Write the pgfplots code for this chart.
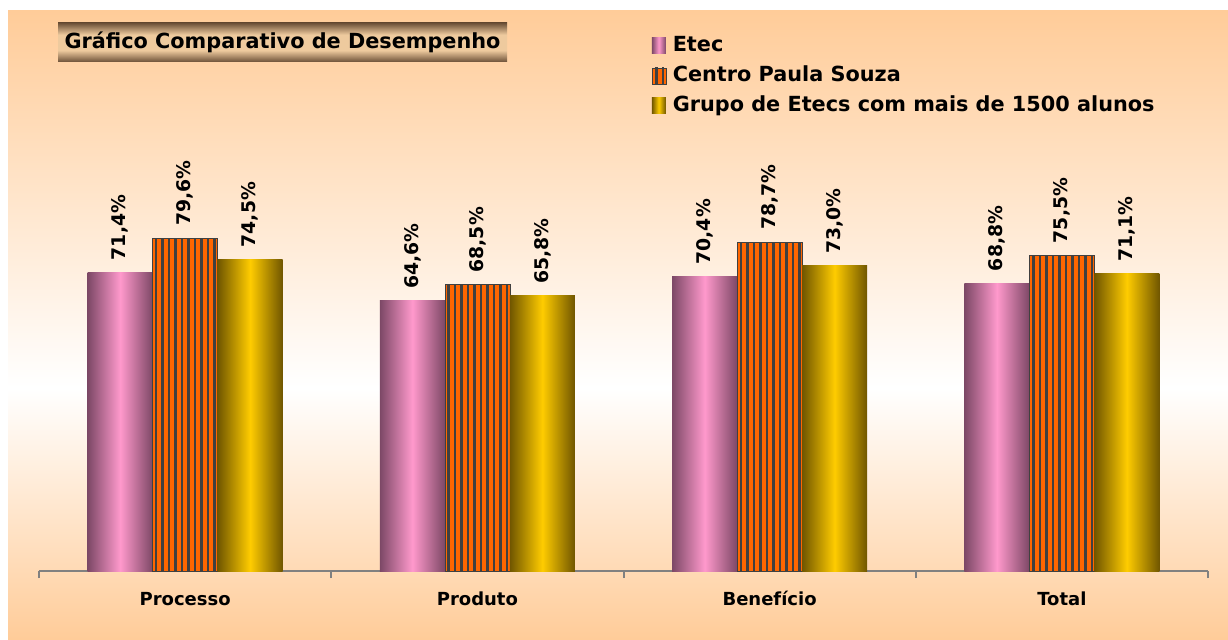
\documentclass[border=0pt]{standalone}
\usepackage{pgfplots}
\pgfplotsset{compat=1.18}
\usetikzlibrary{patterns.meta}
\usepackage{fontspec}
\setmainfont{DejaVu Sans}
\definecolor{peach}{RGB}{255,204,153}
\definecolor{pinkL}{RGB}{255,153,204}
\definecolor{pinkD}{RGB}{125,72,102}
\definecolor{goldL}{RGB}{255,204,0}
\definecolor{goldD}{RGB}{112,86,0}
\definecolor{orangeS}{RGB}{255,102,0}
\definecolor{grayS}{RGB}{64,64,64}
\definecolor{axisgray}{RGB}{128,128,128}
\definecolor{tdark}{RGB}{108,80,55}
\definecolor{tlight}{RGB}{238,202,158}
\pgfdeclareverticalshading{bgshade}{100bp}{color(0bp)=(peach); color(25bp)=(peach); color(45bp)=(white); color(75bp)=(peach); color(100bp)=(peach)}
\pgfdeclareverticalshading{titleshade}{100bp}{color(0bp)=(tdark); color(25bp)=(tdark); color(40bp)=(tlight); color(60bp)=(tlight); color(75bp)=(tdark); color(100bp)=(tdark)}
\newcommand{\lblfont}{\bfseries\fontsize{9}{10}\selectfont}
\newcommand{\valfont}{\bfseries\fontsize{9.4}{10}\selectfont}
\newcommand{\bigfont}{\bfseries\fontsize{10.4}{12}\selectfont}
\tikzset{
  etecfill/.style={left color=pinkD, right color=pinkD, middle color=pinkL, draw=none},
  goldfill/.style={left color=goldD, right color=goldD, middle color=goldL, draw=none},
  cpsfill/.style={fill=orangeS, draw=grayS, line width=0.3pt, postaction={pattern color=grayS, pattern={Lines[angle=90,distance=3.25pt,line width=1.45pt]}}},
}
\pgfplotsset{
  barbase/.style={ybar, bar width=0.2224,
    nodes near coords={\pgfmathprintnumber{\pgfplotspointmeta}\%},
    every node near coord/.append style={inner xsep=6pt, inner ysep=0pt, font=\valfont, text=black}},
  etec/.style={barbase, bar shift=-0.2224, etecfill,
    every node near coord/.append style={xshift=-32.5pt, rotate=90, anchor=west},
    legend image code/.code={\path[etecfill] (0pt,-4pt) rectangle (7pt,4pt);}},
  cps/.style={barbase, bar shift=0, cpsfill,
    every node near coord/.append style={rotate=90, anchor=west},
    legend image code/.code={\path[cpsfill] (0pt,-4pt) rectangle (7pt,4pt);}},
  grupo/.style={barbase, bar shift=0.2224, goldfill,
    every node near coord/.append style={xshift=32.5pt, rotate=90, anchor=west},
    legend image code/.code={\path[goldfill] (0pt,-4pt) rectangle (7pt,4pt);}},
}
\begin{document}
\begin{tikzpicture}[x=1pt,y=1pt]
\useasboundingbox (0,0) rectangle (614,319.5);
\fill[white] (0,0) rectangle (614,319.5);
\shade[shading=bgshade] (4,0) rectangle (614,314);
\shade[shading=titleshade] (29,288.5) rectangle (253.5,308);
\node[font=\bigfont, inner sep=0pt] at (141.25,298.25) {Gráfico Comparativo de Desempenho};
\begin{axis}[
  at={(19.5pt,34pt)}, anchor=south west, scale only axis,
  width=584.5pt, height=209pt,
  xmin=-0.5, xmax=3.5, ymin=0, ymax=100,
  axis x line*=bottom, axis y line=none,
  x axis line style={draw=axisgray, line width=1pt, -},
  xtick={0,1,2,3}, xticklabels={Processo,Produto,Benefício,Total},
  major tick length=0pt,
  extra x ticks={-0.5,0.5,1.5,2.5,3.5}, extra x tick labels={},
  extra x tick style={tick align=outside, major tick length=3.5pt, tick style={draw=axisgray, line width=1pt}},
  xticklabel style={font=\lblfont, text=black, anchor=base, yshift=-17pt},
  clip=false,
  legend cell align=left,
  legend style={at={(0.524,1.2852)}, anchor=north west, draw=none, fill=none,
    inner sep=0pt, outer sep=0pt, font=\bigfont, row sep=2.8pt,
    nodes={inner sep=1pt, text height=8pt, text depth=2.2pt},
    /tikz/every odd column/.append style={column sep=2.3pt}},
  /pgf/number format/use comma,
  /pgf/number format/fixed,
  /pgf/number format/fixed zerofill,
  /pgf/number format/precision=1,
  /pgf/number format/assume math mode=true,
]
\addplot[etec] coordinates {(0,71.4)}; \addlegendentry{Etec}
\addplot[cps] coordinates {(0,79.6)}; \addlegendentry{Centro Paula Souza}
\addplot[grupo] coordinates {(0,74.5)}; \addlegendentry{Grupo de Etecs com mais de 1500 alunos}
\addplot[etec, forget plot] coordinates {(1,64.6)};
\addplot[cps, forget plot] coordinates {(1,68.5)};
\addplot[grupo, forget plot] coordinates {(1,65.8)};
\addplot[etec, forget plot] coordinates {(2,70.4)};
\addplot[cps, forget plot] coordinates {(2,78.7)};
\addplot[grupo, forget plot] coordinates {(2,73.0)};
\addplot[etec, forget plot] coordinates {(3,68.8)};
\addplot[cps, forget plot] coordinates {(3,75.5)};
\addplot[grupo, forget plot] coordinates {(3,71.1)};
\end{axis}
\end{tikzpicture}
\end{document}
